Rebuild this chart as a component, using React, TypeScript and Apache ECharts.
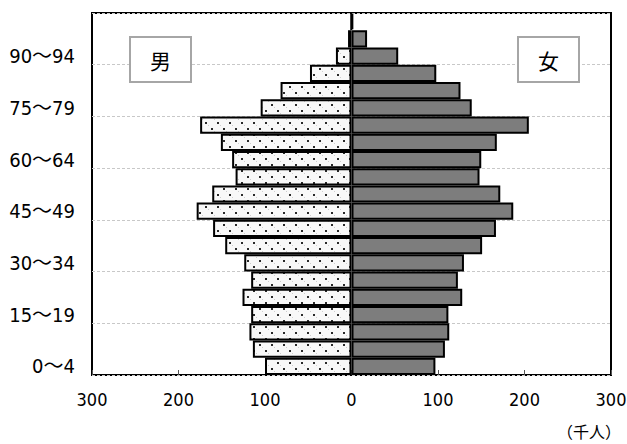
import React, { useEffect, useRef } from "react";
import * as echarts from "echarts";

// 年齢階級（下から上へ）
const ageGroups = [
  "0～4", "5～9", "10～14", "15～19", "20～24", "25～29", "30～34",
  "35～39", "40～44", "45～49", "50～54", "55～59", "60～64", "65～69",
  "70～74", "75～79", "80～84", "85～89", "90～94", "95～99", "100～",
];

// 男性人口（千人）
const male = [
  100, 114, 118, 116, 126, 116, 124, 146, 160, 179, 161,
  134, 138, 151, 175, 105, 82, 48, 18, 4, 0.6,
];

// 女性人口（千人）
const female = [
  97, 108, 113, 112, 128, 123, 130, 151, 167, 187, 172,
  148, 150, 168, 205, 139, 126, 98, 54, 18, 2,
];

const xTicks = { min: -300, max: 300, interval: 100 };
const unitLabel = "（千人）";

const LABEL_FONT =
  "'Liberation Sans Narrow', 'DejaVu Sans Condensed', 'Noto Sans CJK JP', sans-serif";
const CJK_FONT = "'Noto Sans CJK JP', sans-serif";

function makeTile(w: number, h: number, draw: (c: CanvasRenderingContext2D) => void) {
  const cv = document.createElement("canvas");
  cv.width = w;
  cv.height = h;
  const ctx = cv.getContext("2d")!;
  draw(ctx);
  return { image: cv, repeat: "repeat", imageWidth: w, imageHeight: h } as any;
}

export default function App() {
  const ref = useRef<HTMLDivElement>(null);

  useEffect(() => {
    if (!ref.current) return;
    const chart = echarts.init(ref.current, undefined, { renderer: "svg" });

    // 男：点描
    const dotFill = makeTile(12, 12, (c) => {
      c.fillStyle = "#f8f8f8";
      c.fillRect(0, 0, 12, 12);
      c.fillStyle = "#cfcfcf";
      c.fillRect(4, 5, 1, 1);
      c.fillRect(10, 11, 1, 1);
      c.fillStyle = "#2a2a2a";
      c.fillRect(1, 2, 2, 2);
      c.fillRect(7, 8, 2, 2);
    });

    chart.setOption({
      animation: false,
      grid: {
        left: 92,
        right: 16,
        top: 13,
        bottom: 69,
        containLabel: false,
        outerBoundsMode: "none",
        show: true,
        borderColor: "#000",
        borderWidth: 2,
        backgroundColor: "transparent",
      },
      xAxis: {
        type: "value",
        min: xTicks.min,
        max: xTicks.max,
        interval: xTicks.interval,
        axisLine: { show: false },
        splitLine: { show: false },
        axisTick: {
          show: true,
          inside: true,
          length: 5,
          lineStyle: { color: "#555", width: 1 },
        },
        axisLabel: {
          margin: 15,
          fontFamily: LABEL_FONT,
          fontSize: 18,
          color: "#000",
          formatter: (v: number) => String(Math.abs(v)),
        },
      },
      yAxis: {
        type: "category",
        data: ageGroups,
        axisLine: { show: false },
        axisTick: { show: false },
        splitLine: {
          show: true,
          lineStyle: { color: "#c8c8c8", type: [3, 2], width: 1 },
        },
        axisLabel: {
          interval: 2,
          margin: 17,
          fontFamily: LABEL_FONT,
          fontSize: 20,
          color: "#000",
          padding: [14, 0, 0, 0],
        },
      },
      series: [
        {
          name: "男",
          type: "bar",
          data: male.map((v) => -v),
          barWidth: "100%",
          barGap: "-100%",
          itemStyle: { color: dotFill, borderColor: "#000", borderWidth: 2 },
          emphasis: { disabled: true },
          z: 3,
        },
        {
          name: "女",
          type: "bar",
          data: female,
          barWidth: "100%",
          barGap: "-100%",
          itemStyle: { color: "#7d7d7d", borderColor: "#000", borderWidth: 2 },
          emphasis: { disabled: true },
          z: 3,
        },
      ],
      graphic: [
        {
          type: "rect",
          shape: { x: 130, y: 37, width: 61, height: 45 },
          style: { fill: "#fff", stroke: "#a6a6a6", lineWidth: 2 },
          z: 10,
        },
        {
          type: "text",
          x: 160.5,
          y: 60,
          style: {
            text: "男",
            fontFamily: CJK_FONT,
            fontSize: 21,
            fill: "#000",
            align: "center",
            verticalAlign: "middle",
          },
          z: 11,
        },
        {
          type: "rect",
          shape: { x: 518, y: 37, width: 61, height: 45 },
          style: { fill: "#fff", stroke: "#a6a6a6", lineWidth: 2 },
          z: 10,
        },
        {
          type: "text",
          x: 548.5,
          y: 60,
          style: {
            text: "女",
            fontFamily: CJK_FONT,
            fontSize: 21,
            fill: "#000",
            align: "center",
            verticalAlign: "middle",
          },
          z: 11,
        },
        {
          type: "text",
          x: 621,
          y: 431,
          style: {
            text: unitLabel,
            fontFamily: CJK_FONT,
            fontSize: 16,
            fill: "#000",
            align: "right",
            verticalAlign: "middle",
          },
          z: 11,
        },
      ],
    });

    return () => chart.dispose();
  }, []);

  return (
    <div
      ref={ref}
      style={{ position: "fixed", left: 0, top: 0, width: 627, height: 444, background: "#fff" }}
    />
  );
}
